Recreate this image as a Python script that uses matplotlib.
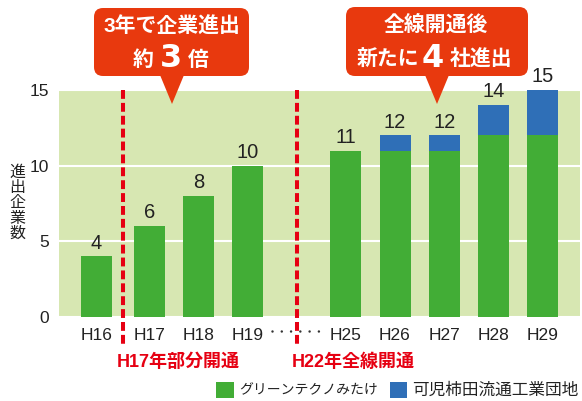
import numpy as np
import matplotlib
matplotlib.use("Agg")
import matplotlib.pyplot as plt
from matplotlib.patches import FancyBboxPatch, Polygon, Rectangle

plt.rcParams['font.family'] = ['Liberation Sans', 'Noto Sans CJK JP']

# data
years = ['H16', 'H17', 'H18', 'H19', 'H25', 'H26', 'H27', 'H28', 'H29']
green = [4, 6, 8, 10, 11, 11, 11, 12, 12]     # グリーンテクノみたけ
blue = [0, 0, 0, 0, 0, 1, 1, 2, 3]            # 可児柿田流通工業団地
yticks = [0, 5, 10, 15]
series_names = ['グリーンテクノみたけ', '可児柿田流通工業団地']

# layout (axes x units are pixels)
xpos = [96.5, 149.5, 198.5, 247.5, 345.5, 395, 444.5, 493.5, 542.5]
c_green = '#42ad36'
c_blue = '#2f6fb7'
c_bg = '#d7e7b2'
c_call = '#e8390e'
c_red = '#e60012'

W, H = 582, 401
fig = plt.figure(figsize=(W / 100, H / 100), dpi=100)
ax = fig.add_axes([59 / W, 84 / H, 521 / W, 227 / H])
ax.set_facecolor(c_bg)
ax.set_xlim(59, 580)
ax.set_ylim(0, 15)
for s in ax.spines.values():
    s.set_visible(False)

ax.bar(xpos, green, width=31, color=c_green, zorder=3)
ax.bar(xpos, blue, width=31, bottom=green, color=c_blue, zorder=3)
totals = np.array(green) + np.array(blue)
for x, t in zip(xpos, totals):
    ax.text(x, t + 0.25, str(t), ha='center', va='bottom', fontsize=14.5, color='#222222', zorder=4)

ax.set_yticks(yticks)
ax.set_xticks(xpos)
ax.set_xticklabels(years)
ax.tick_params(axis='both', length=0, labelsize=12.5, colors='#222222')
ax.tick_params(axis='y', pad=7)
ax.tick_params(axis='x', pad=8)
ax.yaxis.grid(True, color='white', linewidth=1.5, zorder=1)
ax.set_axisbelow(True)

# overlay in pixel coords
ov = fig.add_axes([0, 0, 1, 1], zorder=5)
ov.set_xlim(0, W)
ov.set_ylim(H, 0)
ov.axis('off')
ov.patch.set_alpha(0)

# y label
ov.text(17, 203, '\n'.join('進出企業数'), ha='center', va='center', fontsize=11.5,
        linespacing=1.02, color='#222222')

# red dashed event lines
for xl in [123, 297]:
    ov.plot([xl, xl], [90, 346], color=c_red, linewidth=2.9, dashes=(2.2, 1.0), solid_capstyle='butt')
ov.text(117, 362, 'H17年部分開通', ha='left', va='center', fontsize=13, fontweight='bold', color=c_red)
ov.text(292, 362, 'H22年全線開通', ha='left', va='center', fontsize=13, fontweight='bold', color=c_red)

# dots between H19 and H25
ov.plot([271.5, 318.5], [330.5, 330.5], color='#333333', linewidth=1.8,
        dashes=(0.01, 3.7), dash_capstyle='round')

# callouts
def callout(x0, y0, w, h, tipx):
    ov.add_patch(FancyBboxPatch((x0, y0), w, h, boxstyle='round,pad=0,rounding_size=9',
                                facecolor=c_call, edgecolor='none'))
    ov.add_patch(Polygon([(tipx - 12, y0 + h - 1), (tipx + 12, y0 + h - 1), (tipx, 104)],
                         closed=True, facecolor=c_call, edgecolor='none'))

callout(94, 8, 155, 68, 172)
callout(346, 7, 182, 69, 437)

tw = dict(color='white', fontweight='bold', va='center', ha='center')
ov.text(171.5, 27, '3年で企業進出', fontsize=15, **tw)
ov.text(143.5, 60, '約', fontsize=15, **tw)
ov.text(171, 58.5, '3', fontsize=23, family='DejaVu Sans', **tw)
ov.text(198, 60, '倍', fontsize=15, **tw)

ov.text(436, 25, '全線開通後', fontsize=15, **tw)
ov.text(388, 60, '新たに', fontsize=15, **tw)
ov.text(433, 58.5, '4', fontsize=23, family='DejaVu Sans', **tw)
ov.text(481, 60, '社進出', fontsize=15, **tw)

# legend
ov.add_patch(Rectangle((216, 382), 18, 16, facecolor=c_green, edgecolor='none'))
ov.text(239, 390, series_names[0], ha='left', va='center', fontsize=10, color='#222222')
ov.add_patch(Rectangle((390, 382), 17, 16, facecolor=c_blue, edgecolor='none'))
ov.text(412, 390, series_names[1], ha='left', va='center', fontsize=12, color='#222222')

fig.savefig('out.png', dpi=100)
